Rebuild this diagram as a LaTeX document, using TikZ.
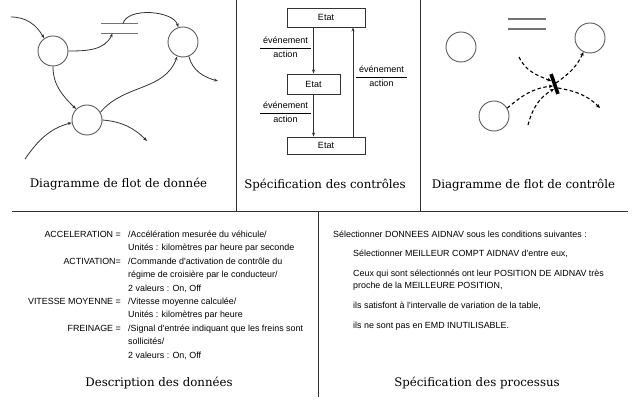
\documentclass[tikz,border=0pt]{standalone}
\usepackage{fontspec}
\setmainfont{DejaVu Serif}
\newfontfamily\helv{Liberation Sans}
\usepackage{tikz}
\usetikzlibrary{arrows.meta,positioning,calc}
\newcommand{\flowstore}[3]{\node[minimum width=#3, minimum height=9.5pt, inner sep=0pt] (#1) at #2 {};\draw[storeline] (#1.north west) -- (#1.north east) (#1.south west) -- (#1.south east);}
\newcommand{\evact}{{\renewcommand{\arraystretch}{1.18}\setlength{\arrayrulewidth}{0.6pt}\begin{tabular}{@{\hspace{3pt}}c@{\hspace{3pt}}}événement\\\hline action\end{tabular}}}
\tikzset{proc/.style={circle, draw=black!65, line width=0.9pt, minimum size=30pt, inner sep=0pt},
  flow/.style={-{Stealth[length=4pt,width=3pt]}, draw=black!80, line width=0.8pt},
  cflow/.style={-{Stealth[length=4pt,width=3.5pt]}, line width=1.1pt, dash pattern=on 3.5pt off 2.5pt},
  storeline/.style={draw=black!55, line width=1.4pt},
  ctlbar/.style={fill=black, minimum width=21pt, minimum height=3.6pt, inner sep=0pt, rotate=-70.7},
  etat/.style={draw=black!80, line width=0.9pt, inner sep=0pt, font=\helv\fontsize{9}{10}\selectfont},
  ctl/.style={-{Stealth[length=4pt,width=3pt]}, draw=black!80, line width=0.9pt},
  evt/.style={inner sep=0pt, font=\helv\fontsize{9}{11}\selectfont},
  datatxt/.style={inner sep=0pt, font=\helv\fontsize{8.9}{13.4}\selectfont},
  proctxt/.style={inner sep=0pt, font=\helv\fontsize{8.9}{12}\selectfont},
  caption/.style={inner sep=0pt, anchor=base, font=\fontsize{11.8}{14}\selectfont},
  frame/.style={draw=black!80, line width=1pt}}
\begin{document}
\begin{tikzpicture}[x=1pt, y=1pt]
\useasboundingbox (0,0) rectangle (640,-411);
\draw[frame] (236,0) -- (236,-212) (420,0) -- (420,-212) (12,-212) -- (628,-212) (318,-212) -- (318,-397);
% flot de donnee
\node[proc] (pa) at (53,-51) {};
\node[proc] (pb) at (183,-42) {};
\node[proc] (pc) at (87,-120) {};
\flowstore{sa}{(119.5,-28.5)}{37pt}
\coordinate (ia) at (11,-17);
\coordinate (ic) at (25,-159);
\coordinate (oc) at (147,-141);
\coordinate (ob) at (218,-81);
\draw[flow] (ia) to[out=0,in=120] (pa.125);
\draw[flow] (pa.east) to[out=0,in=-115] ([xshift=-7pt]sa.south);
\draw[flow] ([xshift=3.5pt]sa.north) to[out=75,in=105,looseness=0.8] (pb.108);
\draw[flow] (pc.30) to[out=50,in=-110] (pb.-112);
\draw[flow] (pa.south) to[out=-90,in=135] (pc.135);
\draw[flow] (ic) to[out=55,in=-165] (pc.190);
\draw[flow] (pc.east) to[out=-5,in=135] (oc);
\draw[flow] (pb.-68) to[out=-75,in=165] (ob);
\node[caption] (cap1) at (118.5,-188) {Diagramme de flot de donnée};
% controles
\node[etat, minimum width=78pt, minimum height=19pt] (s1) at (326,-17.5) {Etat};
\node[etat, minimum width=53pt, minimum height=20pt] (s2) at (313.5,-84) {Etat};
\node[etat, minimum width=78pt, minimum height=17pt] (s3) at (326,-145.5) {Etat};
\draw[ctl] (s1.south -| s2.north) -- (s2.north);
\draw[ctl] (s2.south) -- (s2.south |- s3.north);
\draw[ctl] ([xshift=27pt]s3.north) -- ([xshift=27pt]s1.south);
\node[evt] (ev1) at (285.5,-48) {\evact};
\node[evt] (ev2) at (285.5,-113) {\evact};
\node[evt] (ev3) at (381.5,-77) {\evact};
\node[caption] (cap2) at (325,-189) {Spécification des contrôles};
% flot de controle
\node[proc] (pd) at (461,-47) {};
\node[proc] (pe) at (590,-38) {};
\node[proc] (pf) at (494,-116) {};
\flowstore{sb}{(527,-24)}{38pt}
\coordinate (ca) at (519,-57);
\coordinate (ce) at (528,-125);
\coordinate (cd) at (600,-108);
\coordinate (bc) at (554.5,-84);
\draw[cflow] (ca) to[out=-65,in=158] ([shift={(-3.3,3)}]bc);
\draw[cflow] (pf.31) to[out=40,in=186] ([shift={(-1.6,-2)}]bc);
\draw[cflow] (ce) to[out=75,in=-150] ([shift={(-0.5,-5)}]bc);
\draw[cflow] ([shift={(1.5,1)}]bc) to[out=35,in=-115] (pe.-115);
\draw[cflow] ([shift={(3.5,-4)}]bc) to[out=-10,in=135] (cd);
\node[ctlbar] (bar) at (bc) {};
\node[caption] (cap3) at (523.5,-189) {Diagramme de flot de contrôle};
% donnees
\node[datatxt, anchor=base east] (dnames) at (121,-237.5) {\begin{tabular}[t]{@{}r@{}}ACCELERATION =\\ \\ ACTIVATION=\\ \\ \\ VITESSE MOYENNE =\\ \\ FREINAGE =\end{tabular}};
\node[datatxt, anchor=base west] (ddefs) at (128,-237.5) {\begin{tabular}[t]{@{}l@{}}/Accélération mesurée du véhicule/\\ Unités : kilomètres par heure par seconde\\ /Commande d'activation de contrôle du\\ régime de croisière par le conducteur/\\ 2 valeurs : On, Off\\ /Vitesse moyenne calculée/\\ Unités : kilomètres par heure\\ /Signal d'entrée indiquant que les freins sont\\ sollicités/\\ 2 valeurs : On, Off\end{tabular}};
\node[caption] (cap4) at (159,-387) {Description des données};
% processus
\node[proctxt, anchor=base west] (pspec) at (333,-237.2) {\begin{tabular}[t]{@{}l@{}}Sélectionner DONNEES AIDNAV sous les conditions suivantes :\\[7pt] \hspace*{20pt}Sélectionner MEILLEUR COMPT AIDNAV d'entre eux,\\[8pt] \hspace*{20pt}Ceux qui sont sélectionnés ont leur POSITION DE AIDNAV très\\ \hspace*{20pt}proche de la MEILLEURE POSITION,\\[8pt] \hspace*{20pt}ils satisfont à l'intervalle de variation de la table,\\[8pt] \hspace*{20pt}ils ne sont pas en EMD INUTILISABLE.\end{tabular}};
\node[caption] (cap5) at (477,-387) {Spécification des processus};
\end{tikzpicture}
\end{document}
